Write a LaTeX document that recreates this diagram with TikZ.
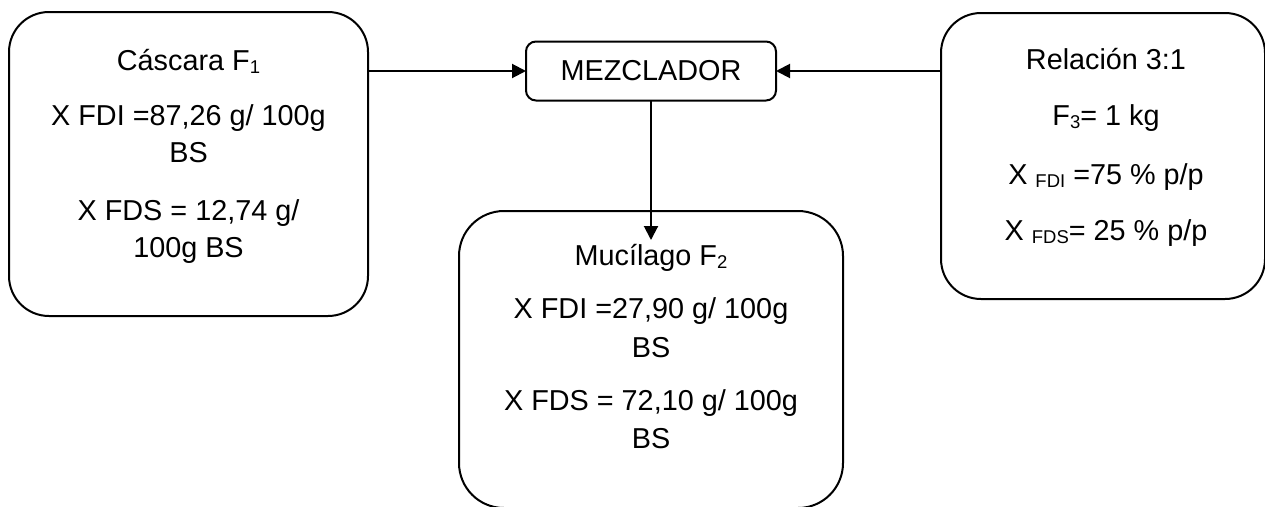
\documentclass[tikz,border=0pt]{standalone}
\usepackage{fontspec}
\setmainfont{Liberation Sans}
\usetikzlibrary{arrows.meta}
% small lowered subscript in the body font
\newcommand{\sbs}[1]{\raisebox{-0.12em}{\fontsize{18.5}{18.5}\selectfont #1}}
\begin{document}
\begin{tikzpicture}[x=1pt,y=-1pt,
  every node/.style={font=\fontsize{28.8}{34}\selectfont, inner sep=0pt, outer sep=0pt},
  box/.style={draw, line width=2pt, rounded corners=#1},
  txt/.style={anchor=base},
  conn/.style={line width=2pt, -{Triangle[length=14pt,width=14pt]}}]
\useasboundingbox (0,0) rectangle (1265,506);
\clip (0,0) rectangle (1265,506);

% process boxes
\node[box=40pt, minimum width=359pt, minimum height=304pt] (boxL) at (188.5,164) {};
\node[box=10pt, minimum width=250pt, minimum height=59pt] (mez) at (651,71) {MEZCLADOR};
\node[box=40pt, minimum width=324pt, minimum height=286pt] (boxR) at (1103,156) {};
\node[box=45pt, minimum width=384pt, minimum height=297pt] (boxM) at (651,359.5) {};

% left box: peel stream
\node[txt] (l1) at (188.5,70) {Cáscara F\sbs{1}};
\node[txt] (l2) at (188.5,125) {X FDI =87,26 g/ 100g};
\node[txt] (l3) at (188.5,162) {BS};
\node[txt] (l4) at (188.5,220) {X FDS = 12,74 g/};
\node[txt] (l5) at (188.5,257) {100g BS};

% right box: mixture ratio
\node[txt] (r1) at (1106,69) {Relación 3:1};
\node[txt] (r2) at (1106,125) {F\sbs{3}= 1 kg};
\node[txt] (r3) at (1106,184) {X \sbs{FDI} =75 \% p/p};
\node[txt] (r4) at (1106,240) {X \sbs{FDS}= 25 \% p/p};

% middle box: mucilage stream
\node[txt] (m1) at (651,265) {Mucílago F\sbs{2}};
\node[txt] (m2) at (651,318) {X FDI =27,90 g/ 100g};
\node[txt] (m3) at (651,357) {BS};
\node[txt] (m4) at (651,410) {X FDS = 72,10 g/ 100g};
\node[txt] (m5) at (651,448) {BS};

% connectors
\coordinate (tipF2) at (651,240);
\draw[conn] (boxL.east |- mez.west) -- (mez.west);
\draw[conn] (boxR.west |- mez.east) -- (mez.east);
\draw[conn] (mez.south) -- (tipF2);
\end{tikzpicture}
\end{document}
